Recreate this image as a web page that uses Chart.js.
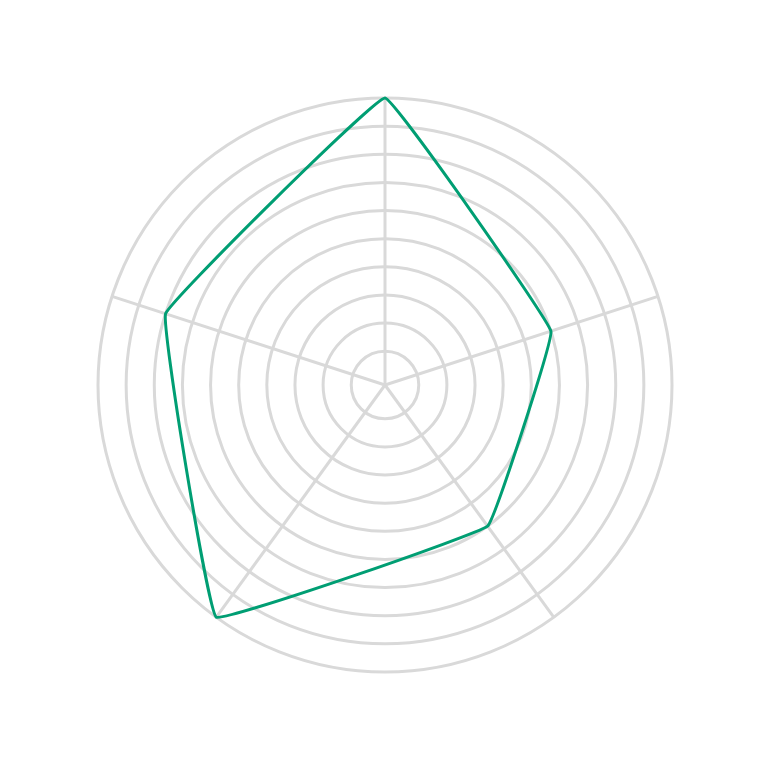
<!DOCTYPE html>
<html>
<head>
<meta charset="utf-8">
<script src="https://cdn.jsdelivr.net/npm/chart.js@4/dist/chart.umd.min.js"></script>
<style>
  html, body { margin: 0; padding: 0; background: #fff; }
  #wrap { width: 771px; height: 771px; }
</style>
</head>
<body>
<div id="wrap"><canvas id="radar"></canvas></div>
<script>
// Data
const categories = ["A", "B", "C", "D", "E"];
const seriesValues = [10, 6, 6, 10, 8];
const tickValues = [1, 2, 3, 4, 5, 6, 7, 8, 9, 10];

const gridColor = "#d9d9d9";
const lineColor = "#009e73";

new Chart(document.getElementById("radar").getContext("2d"), {
  type: "radar",
  data: {
    labels: categories,
    datasets: [
      {
        data: seriesValues,
        borderColor: lineColor,
        borderWidth: 3,
        fill: false,
        pointRadius: 0,
        pointHoverRadius: 0,
        tension: 0.05,
      },
    ],
  },
  options: {
    responsive: true,
    maintainAspectRatio: false,
    animation: false,
    layout: { padding: 98 },
    plugins: {
      legend: { display: false },
      tooltip: { enabled: false },
    },
    scales: {
      r: {
        min: -0.2,
        max: 10,
        afterBuildTicks: (scale) => {
          scale.ticks = tickValues.map((v) => ({ value: v }));
        },
        grid: { circular: true, color: gridColor, lineWidth: 3 },
        angleLines: { color: gridColor, lineWidth: 3 },
        pointLabels: { display: false },
        ticks: { display: false },
      },
    },
  },
});
</script>
</body>
</html>
